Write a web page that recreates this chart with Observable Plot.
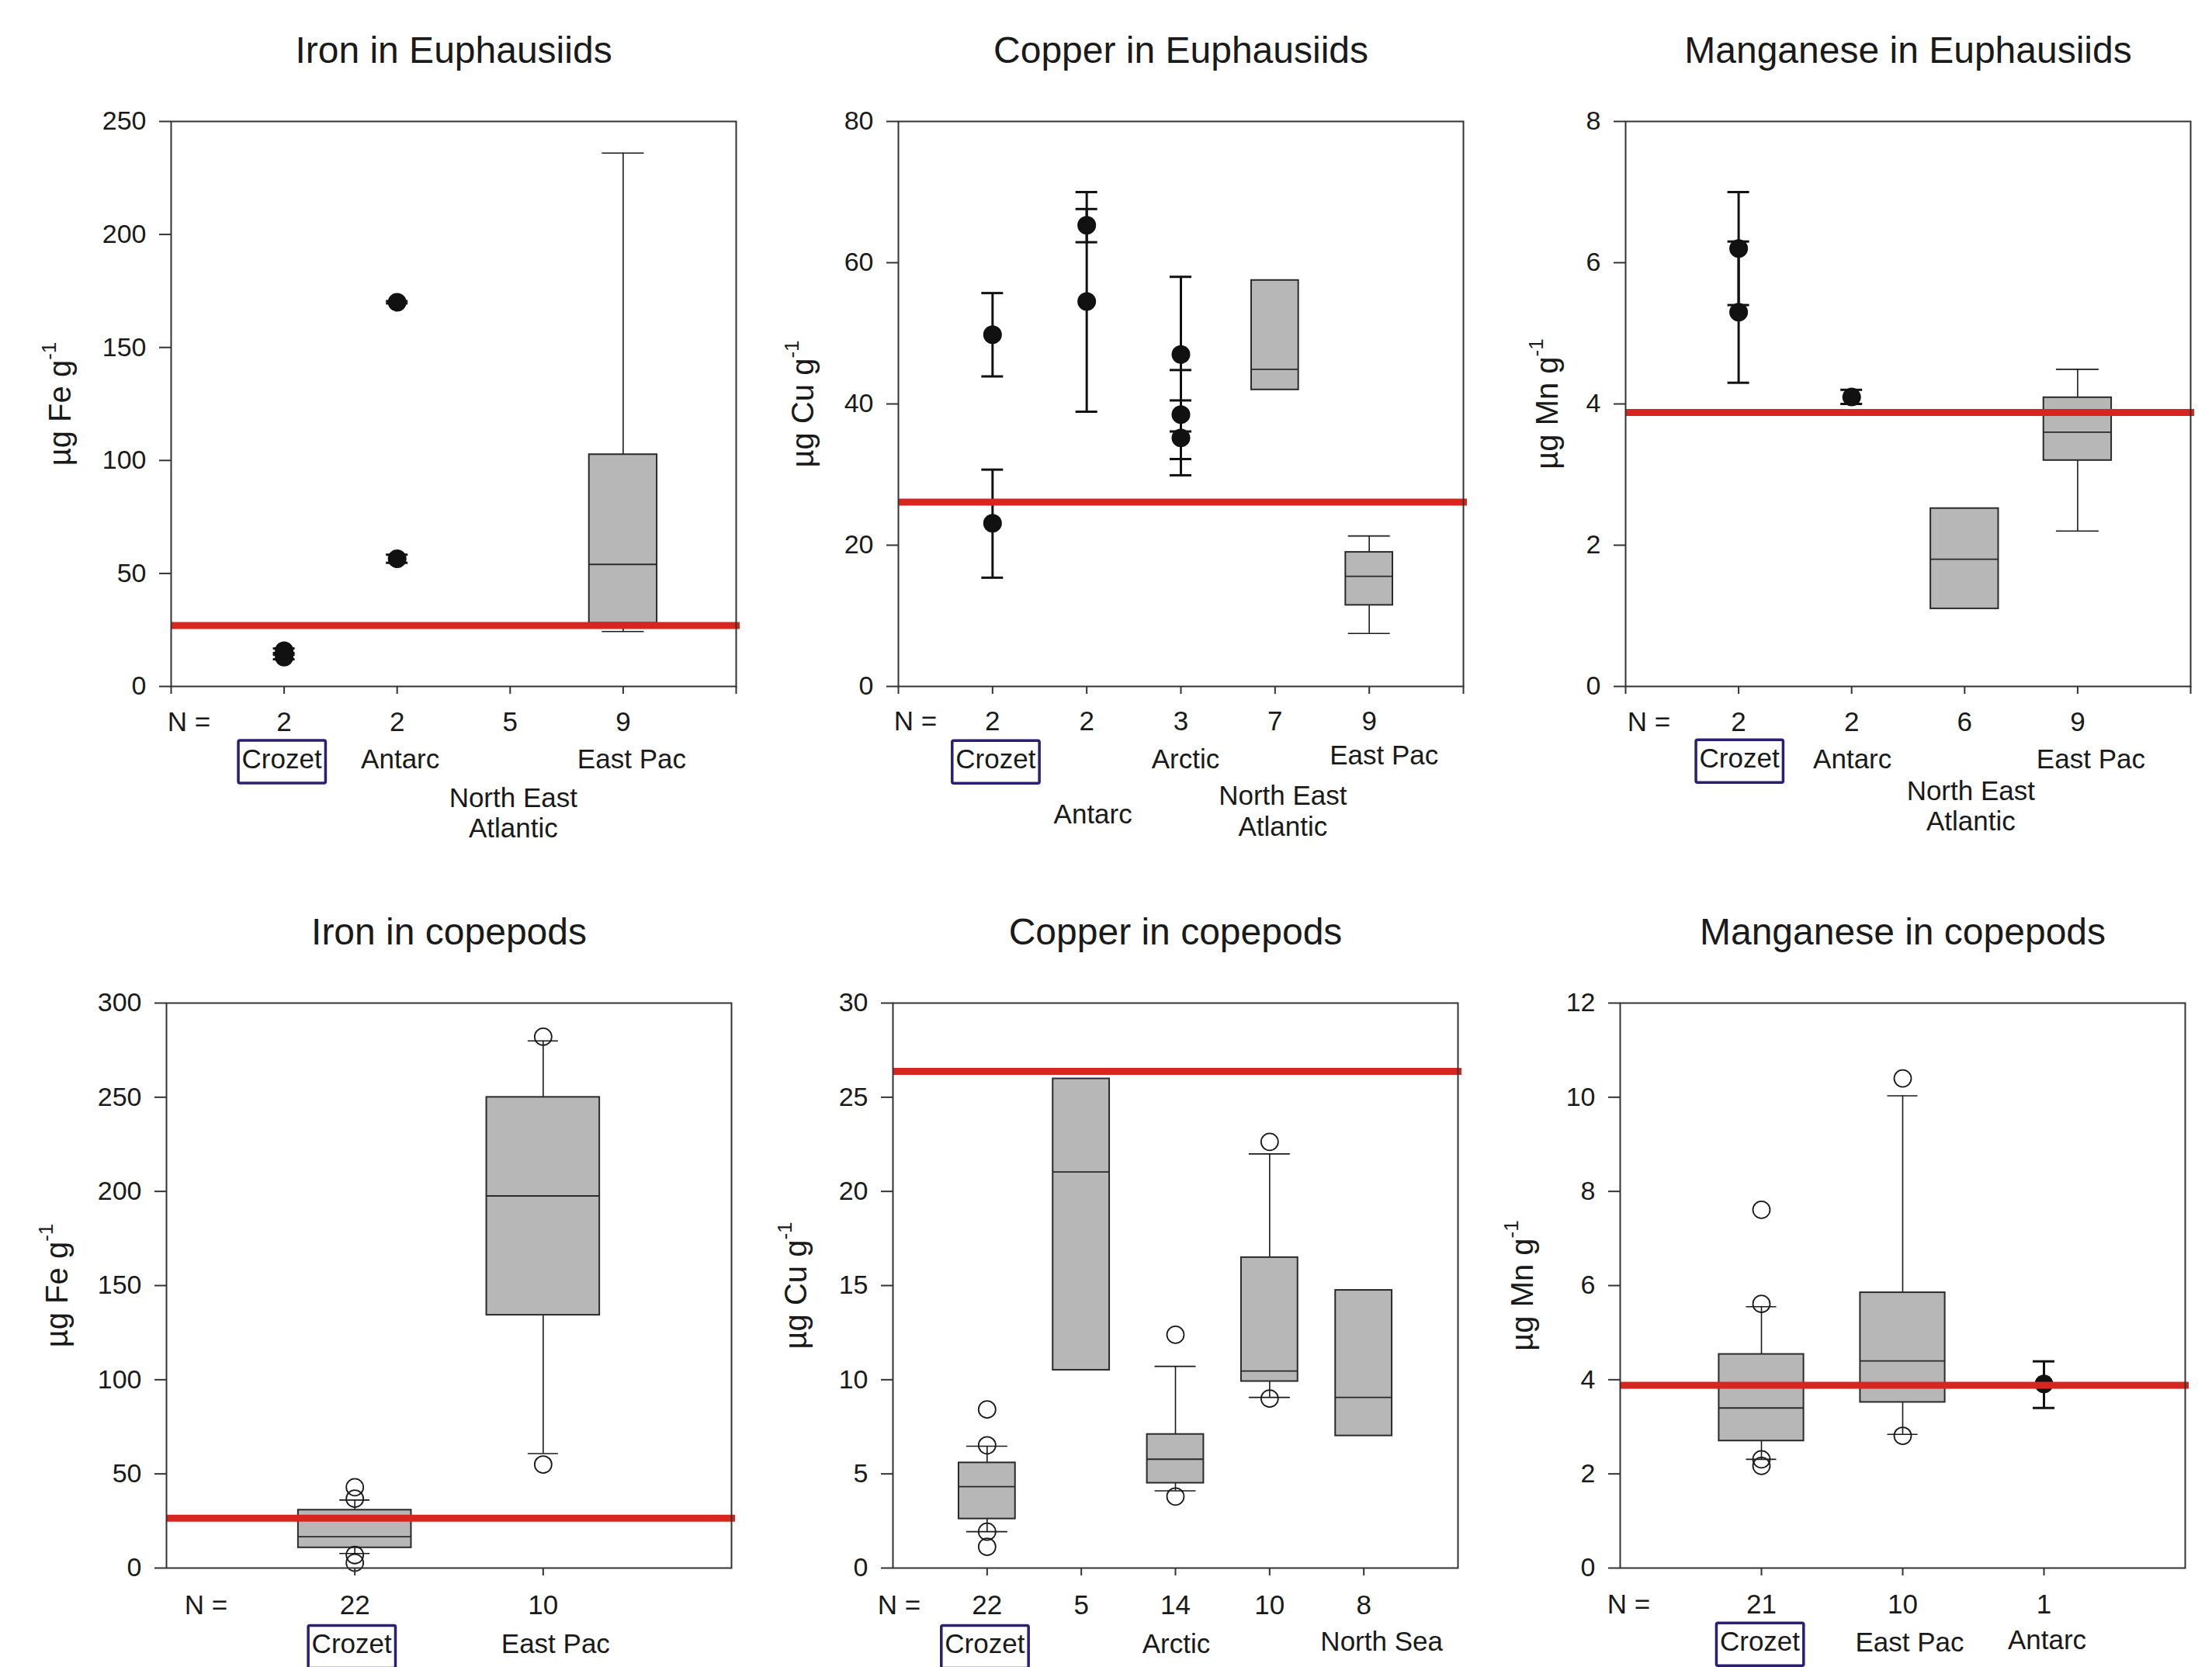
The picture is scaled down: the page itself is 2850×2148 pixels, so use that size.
<!DOCTYPE html>
<html>
<head>
<meta charset="utf-8">
<script src="https://cdn.jsdelivr.net/npm/d3@7"></script>
<script src="https://cdn.jsdelivr.net/npm/@observablehq/plot@0.6"></script>
<style>
html, body { margin: 0; padding: 0; background: #fff; }
#root { position: relative; width: 2850px; height: 2148px; overflow: hidden; background: #fff; }
#root svg { position: absolute; max-width: none; overflow: visible; }
</style>
</head>
<body>
<div id="root"></div>
<script>
// ---------------- DATA ----------------
// Iron in Euphausiids
const feEuphCategories = ["Crozet", "Antarc", "North East Atlantic", "East Pac"];
const feEuphN = [2, 2, 5, 9];
const feEuphMeans = [
  {site: 0, mean: 15.8, low: 14.8, high: 16.8},
  {site: 0, mean: 13.0, low: 12.0, high: 14.0},
  {site: 1, mean: 170.0, low: 169.5, high: 170.5},
  {site: 1, mean: 56.5, low: 54.7, high: 58.3}
];
const feEuphBoxes = [
  {site: 3, low: 24.3, q1: 28.0, median: 54.0, q3: 102.6, high: 236.0}
];
const feEuphOutliers = [];
const feEuphReference = 27.0;
const feEuphTicks = [0, 50, 100, 150, 200, 250];

// Copper in Euphausiids
const cuEuphCategories = ["Crozet", "Antarc", "Arctic", "North East Atlantic", "East Pac"];
const cuEuphN = [2, 2, 3, 7, 9];
const cuEuphMeans = [
  {site: 0, mean: 49.8, low: 43.9, high: 55.7},
  {site: 0, mean: 23.1, low: 15.4, high: 30.7},
  {site: 1, mean: 65.3, low: 62.9, high: 67.6},
  {site: 1, mean: 54.5, low: 38.9, high: 70.0},
  {site: 2, mean: 47.0, low: 36.1, high: 58.0},
  {site: 2, mean: 38.5, low: 32.2, high: 44.8},
  {site: 2, mean: 35.2, low: 29.9, high: 40.5}
];
const cuEuphBoxes = [
  {site: 3, low: null, q1: 42.0, median: 44.9, q3: 57.5, high: null},
  {site: 4, low: 7.5, q1: 11.5, median: 15.6, q3: 19.0, high: 21.3}
];
const cuEuphOutliers = [];
const cuEuphReference = 26.1;
const cuEuphTicks = [0, 20, 40, 60, 80];

// Manganese in Euphausiids
const mnEuphCategories = ["Crozet", "Antarc", "North East Atlantic", "East Pac"];
const mnEuphN = [2, 2, 6, 9];
const mnEuphMeans = [
  {site: 0, mean: 6.2, low: 5.4, high: 7.0},
  {site: 0, mean: 5.3, low: 4.3, high: 6.3},
  {site: 1, mean: 4.1, low: 4.0, high: 4.2}
];
const mnEuphBoxes = [
  {site: 2, low: null, q1: 1.1, median: 1.8, q3: 2.52, high: null},
  {site: 3, low: 2.2, q1: 3.2, median: 3.6, q3: 4.09, high: 4.49}
];
const mnEuphOutliers = [];
const mnEuphReference = 3.88;
const mnEuphTicks = [0, 2, 4, 6, 8];

// Iron in copepods
const feCopeCategories = ["Crozet", "East Pac"];
const feCopeN = [22, 10];
const feCopeMeans = [];
const feCopeBoxes = [
  {site: 0, low: 7.7, q1: 10.8, median: 16.6, q3: 30.8, high: 36.1},
  {site: 1, low: 60.8, q1: 134.3, median: 197.6, q3: 250.0, high: 279.9}
];
const feCopeOutliers = [
  {site: 0, value: 42.9}, {site: 0, value: 36.8}, {site: 0, value: 6.9}, {site: 0, value: 2.8},
  {site: 1, value: 282.1}, {site: 1, value: 55.0}
];
const feCopeReference = 26.5;
const feCopeTicks = [0, 50, 100, 150, 200, 250, 300];

// Copper in copepods
const cuCopeCategories = ["Crozet", "", "Arctic", "", "North Sea"];
const cuCopeN = [22, 5, 14, 10, 8];
const cuCopeMeans = [];
const cuCopeBoxes = [
  {site: 0, low: 1.93, q1: 2.61, median: 4.32, q3: 5.59, high: 6.47},
  {site: 1, low: null, q1: 10.51, median: 21.03, q3: 25.98, high: null},
  {site: 2, low: 4.10, q1: 4.51, median: 5.78, q3: 7.10, high: 10.71},
  {site: 3, low: 9.06, q1: 9.91, median: 10.46, q3: 16.49, high: 21.99},
  {site: 4, low: null, q1: 7.02, median: 9.06, q3: 14.75, high: null}
];
const cuCopeOutliers = [
  {site: 0, value: 8.42}, {site: 0, value: 6.52}, {site: 0, value: 1.93}, {site: 0, value: 1.13},
  {site: 2, value: 12.39}, {site: 2, value: 3.80},
  {site: 3, value: 22.63}, {site: 3, value: 9.0}
];
const cuCopeReference = 26.37;
const cuCopeTicks = [0, 5, 10, 15, 20, 25, 30];

// Manganese in copepods
const mnCopeCategories = ["Crozet", "East Pac", "Antarc"];
const mnCopeN = [21, 10, 1];
const mnCopeMeans = [
  {site: 2, mean: 3.91, low: 3.40, high: 4.39}
];
const mnCopeBoxes = [
  {site: 0, low: 2.31, q1: 2.70, median: 3.40, q3: 4.54, high: 5.55},
  {site: 1, low: 2.84, q1: 3.52, median: 4.40, q3: 5.85, high: 10.03}
];
const mnCopeOutliers = [
  {site: 0, value: 7.61}, {site: 0, value: 5.61}, {site: 0, value: 2.31}, {site: 0, value: 2.17},
  {site: 1, value: 10.40}, {site: 1, value: 2.81}
];
const mnCopeReference = 3.88;
const mnCopeTicks = [0, 2, 4, 6, 8, 10, 12];

const highlightSite = "Crozet";

// ---------------- LAYOUT / STYLE ----------------
const FONT = "'Liberation Sans', Arial, Helvetica, sans-serif";
const INK = "#1a1a1a";
const AXIS = "#333333";
const BOX_FILL = "#b7b7b7";
const RED = "#d6261f";
const NAVY = "#2a1f73";
const FRAME = 728;
const ML = 190, MR = 18;

const rows = [
  {top: 0, height: 1100, marginTop: 156},
  {top: 1110, height: 1038, marginTop: 182}
];

const panels = [
  {title: "Iron in Euphausiids", ylabel: "µg Fe g", categories: feEuphCategories, n: feEuphN,
   means: feEuphMeans, boxes: feEuphBoxes, outliers: feEuphOutliers, reference: feEuphReference, yTicks: feEuphTicks,
   row: 0, frameLeft: 220, boxHalf: 0.3, capHalf: 27, cornerTicks: true, nDx: 23, nDy: 46, ylabelDx: -142, lineHeight: 1.126,
   labels: [{dx: -3, dy: 93}, {dx: 4, dy: 93}, {dx: 4, dy: 162.5}, {dx: 11, dy: 93}]},
  {title: "Copper in Euphausiids", ylabel: "µg Cu g", categories: cuEuphCategories, n: cuEuphN,
   means: cuEuphMeans, boxes: cuEuphBoxes, outliers: cuEuphOutliers, reference: cuEuphReference, yTicks: cuEuphTicks,
   row: 0, frameLeft: 1157, boxHalf: 0.25, capHalf: 27, cornerTicks: true, nDx: 22, nDy: 45, ylabelDx: -122, lineHeight: 1.14,
   labels: [{dx: 4, dy: 93}, {dx: 8, dy: 164}, {dx: 6, dy: 93}, {dx: 10, dy: 160}, {dx: 19, dy: 87.3}]},
  {title: "Manganese in Euphausiids", ylabel: "µg Mn g", categories: mnEuphCategories, n: mnEuphN,
   means: mnEuphMeans, boxes: mnEuphBoxes, outliers: mnEuphOutliers, reference: mnEuphReference, yTicks: mnEuphTicks,
   row: 0, frameLeft: 2094, boxHalf: 0.3, capHalf: 27.5, cornerTicks: true, nDx: 30, nDy: 46, ylabelDx: -100, lineHeight: 1.11,
   labels: [{dx: 1, dy: 92.3}, {dx: 1, dy: 93}, {dx: 8, dy: 153.7}, {dx: 17, dy: 93}]},
  {title: "Iron in copepods", ylabel: "µg Fe g", categories: feCopeCategories, n: feCopeN,
   means: feCopeMeans, boxes: feCopeBoxes, outliers: feCopeOutliers, reference: feCopeReference, yTicks: feCopeTicks,
   row: 1, frameLeft: 214, boxHalf: 0.3, capHalf: 19.5, cornerTicks: false, nDx: 51, nDy: 48, ylabelDx: -140, lineHeight: 1.13,
   labels: [{dx: -4, dy: 97.3}, {dx: 16, dy: 97.3}]},
  {title: "Copper in copepods", ylabel: "µg Cu g", categories: cuCopeCategories, n: cuCopeN,
   means: cuCopeMeans, boxes: cuCopeBoxes, outliers: cuCopeOutliers, reference: cuCopeReference, yTicks: cuCopeTicks,
   row: 1, frameLeft: 1150, boxHalf: 0.3, capHalf: 26.5, cornerTicks: false, nDx: 8, nDy: 48, ylabelDx: -124, lineHeight: 1.13,
   labels: [{dx: -3, dy: 97.3}, {dx: 0, dy: 97.3}, {dx: 1, dy: 97.3}, {dx: 0, dy: 97.3}, {dx: 23, dy: 94}]},
  {title: "Manganese in copepods", ylabel: "µg Mn g", categories: mnCopeCategories, n: mnCopeN,
   means: mnCopeMeans, boxes: mnCopeBoxes, outliers: mnCopeOutliers, reference: mnCopeReference, yTicks: mnCopeTicks,
   row: 1, frameLeft: 2087, boxHalf: 0.3, capHalf: 19.5, cornerTicks: false, nDx: 11, nDy: 47, ylabelDx: -125, lineHeight: 1.13,
   labels: [{dx: -2, dy: 94}, {dx: 9, dy: 95.3}, {dx: 4, dy: 92}]}
];

const root = document.getElementById("root");
const SVGNS = "http://www.w3.org/2000/svg";

function buildPanel(p) {
  const row = rows[p.row];
  const n = p.categories.length;
  const xTicks = p.cornerTicks ? d3.range(0, n + 2) : d3.range(1, n + 1);
  const px = d => d.site + 1;
  const whiskered = p.boxes.filter(d => d.low != null && d.high != null);
  const sites = p.categories.map((name, i) => ({site: i, name, n: p.n[i]}));
  const bw = p.boxHalf;

  const marks = [
    // box-plot whiskers
    Plot.ruleX(whiskered, {x: px, y1: "low", y2: "high", stroke: INK, strokeWidth: 1.6}),
    Plot.ruleY(whiskered, {x1: px, x2: px, y: "low", insetLeft: -p.capHalf, insetRight: -p.capHalf, stroke: INK, strokeWidth: 1.6}),
    Plot.ruleY(whiskered, {x1: px, x2: px, y: "high", insetLeft: -p.capHalf, insetRight: -p.capHalf, stroke: INK, strokeWidth: 1.6}),
    // boxes
    Plot.rect(p.boxes, {x1: d => px(d) - bw, x2: d => px(d) + bw, y1: "q1", y2: "q3", fill: BOX_FILL, stroke: "#2a2a2a", strokeWidth: 2}),
    Plot.ruleY(p.boxes, {x1: d => px(d) - bw, x2: d => px(d) + bw, y: "median", stroke: "#2a2a2a", strokeWidth: 1.8}),
    // outliers
    Plot.dot(p.outliers, {x: px, y: "value", r: 11, stroke: INK, strokeWidth: 1.8, fill: "none"}),
    // means with error bars
    Plot.ruleX(p.means, {x: px, y1: "low", y2: "high", stroke: "#111", strokeWidth: 3}),
    Plot.ruleY(p.means, {x1: px, x2: px, y: "low", insetLeft: -14, insetRight: -14, stroke: "#111", strokeWidth: 3}),
    Plot.ruleY(p.means, {x1: px, x2: px, y: "high", insetLeft: -14, insetRight: -14, stroke: "#111", strokeWidth: 3}),
    Plot.dot(p.means, {x: px, y: "mean", r: 12, fill: "#111", stroke: "none"}),
    // reference line
    Plot.ruleY([p.reference], {y: d => d, stroke: RED, strokeWidth: 9, insetRight: -5}),
    // frame & axes
    Plot.frame({stroke: AXIS, strokeWidth: 2}),
    Plot.axisY({ticks: p.yTicks, tickSize: 15, tickPadding: 17, fontSize: 34, stroke: AXIS, fill: INK, strokeWidth: 2, label: null}),
    Plot.axisX({ticks: xTicks, tickSize: 10, tickFormat: () => "", stroke: AXIS, strokeWidth: 2, label: null}),
    // title
    Plot.text([p.title], {text: d => d, frameAnchor: "top", dy: -91, fontSize: 48, fill: INK, lineAnchor: "middle"}),
    // y label
    Plot.text([p.ylabel], {text: d => d, frameAnchor: "left", dx: p.ylabelDx, rotate: -90, fontSize: 40, fill: INK, lineAnchor: "middle", textAnchor: "middle"}),
    // N row
    Plot.text(["N ="], {text: d => d, frameAnchor: "bottom-left", dx: p.nDx, dy: p.nDy, fontSize: 35, fill: INK, lineAnchor: "middle", textAnchor: "middle"}),
    Plot.text(sites, {x: px, text: d => String(d.n), frameAnchor: "bottom", dy: p.nDy, fontSize: 35, fill: INK, lineAnchor: "middle"})
  ];
  sites.forEach((s, i) => {
    if (!s.name) return;
    const lab = p.labels[i];
    marks.push(Plot.text([s], {
      x: px, text: d => d.name.replace("North East ", "North East\n"),
      frameAnchor: "bottom", dx: lab.dx, dy: lab.dy, fontSize: 35, fill: INK,
      lineAnchor: "middle", lineHeight: p.lineHeight
    }));
  });

  const svg = Plot.plot({
    width: ML + FRAME + MR,
    height: row.height,
    marginLeft: ML, marginRight: MR,
    marginTop: row.marginTop,
    marginBottom: row.height - row.marginTop - FRAME,
    x: {domain: [0, n + 1]},
    y: {domain: [0, p.yTicks[p.yTicks.length - 1]]},
    style: {fontFamily: FONT, background: "transparent", overflow: "visible", color: INK},
    marks
  });
  svg.style.left = (p.frameLeft - ML) + "px";
  svg.style.top = row.top + "px";
  root.appendChild(svg);

  svg.querySelectorAll("text").forEach(t => {
    const content = t.textContent;
    // superscript "-1" on the y label
    if (content === p.ylabel) {
      const ts = document.createElementNS(SVGNS, "tspan");
      ts.setAttribute("dy", "-19");
      ts.setAttribute("font-size", "26");
      ts.textContent = "-1";
      t.appendChild(ts);
    }
    // navy box round the highlighted site name
    if (content === highlightSite) {
      const bb = t.getBBox();
      const r = document.createElementNS(SVGNS, "rect");
      r.setAttribute("x", bb.x - 4.5);
      r.setAttribute("y", bb.y - 4);
      r.setAttribute("width", bb.width + 9);
      r.setAttribute("height", bb.height + 16);
      r.setAttribute("rx", 2);
      r.setAttribute("fill", "none");
      r.setAttribute("stroke", NAVY);
      r.setAttribute("stroke-width", 3.5);
      const tr = t.getAttribute("transform");
      if (tr) r.setAttribute("transform", tr);
      t.parentNode.insertBefore(r, t);
    }
  });
}

panels.forEach(buildPanel);
</script>
</body>
</html>
